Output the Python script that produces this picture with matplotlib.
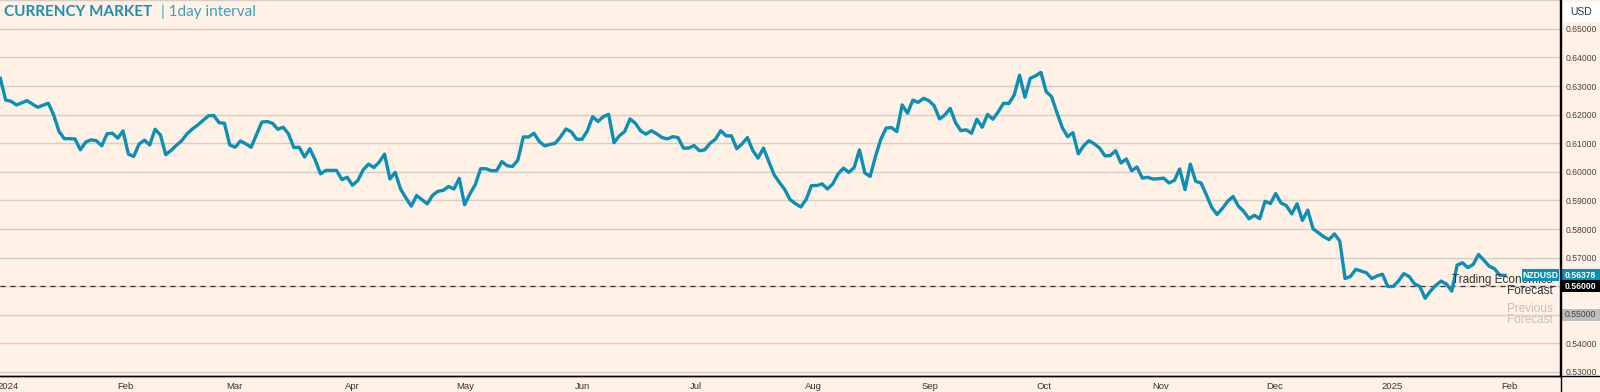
import numpy as np
import pandas as pd
import matplotlib
matplotlib.use("Agg")
import matplotlib.pyplot as plt
from matplotlib.lines import Line2D
from matplotlib.patches import Rectangle
from matplotlib.transforms import blended_transform_factory

# NZDUSD daily closes
start_date = "2023-12-30"
end_date = "2025-01-31"
nzdusd = [
    0.6327, 0.6251, 0.6247, 0.6234, 0.6241, 0.6249, 0.6237, 0.6226, 0.6233, 0.6240,
    0.6199, 0.6141, 0.6116, 0.6116, 0.6115, 0.6077, 0.6104, 0.6112, 0.6109, 0.6091,
    0.6133, 0.6135, 0.6118, 0.6143, 0.6062, 0.6054, 0.6097, 0.6111, 0.6094, 0.6149,
    0.6129, 0.6060, 0.6075, 0.6093, 0.6109, 0.6133, 0.6150, 0.6164, 0.6180, 0.6196,
    0.6197, 0.6172, 0.6170, 0.6094, 0.6086, 0.6108, 0.6098, 0.6086, 0.6130, 0.6174,
    0.6176, 0.6170, 0.6149, 0.6156, 0.6133, 0.6085, 0.6086, 0.6052, 0.6081, 0.6042,
    0.5993, 0.6005, 0.6005, 0.6005, 0.5973, 0.5981, 0.5953, 0.5970, 0.6007, 0.6027,
    0.6015, 0.6034, 0.6062, 0.5975, 0.5998, 0.5940, 0.5909, 0.5880, 0.5917, 0.5903,
    0.5888, 0.5918, 0.5932, 0.5935, 0.5949, 0.5940, 0.5977, 0.5885, 0.5923, 0.5955,
    0.6011, 0.6011, 0.6004, 0.6004, 0.6036, 0.6021, 0.6019, 0.6042, 0.6122, 0.6122,
    0.6135, 0.6106, 0.6091, 0.6096, 0.6100, 0.6123, 0.6150, 0.6140, 0.6114, 0.6114,
    0.6143, 0.6193, 0.6176, 0.6193, 0.6201, 0.6102, 0.6126, 0.6141, 0.6185, 0.6170,
    0.6143, 0.6132, 0.6144, 0.6133, 0.6120, 0.6115, 0.6123, 0.6120, 0.6083, 0.6083,
    0.6092, 0.6074, 0.6077, 0.6100, 0.6114, 0.6144, 0.6126, 0.6126, 0.6081, 0.6098,
    0.6120, 0.6075, 0.6048, 0.6083, 0.6036, 0.5990, 0.5963, 0.5938, 0.5903, 0.5889,
    0.5877, 0.5903, 0.5952, 0.5952, 0.5958, 0.5940, 0.5958, 0.5993, 0.6013, 0.5998,
    0.6015, 0.6077, 0.5996, 0.5984, 0.6054, 0.6114, 0.6153, 0.6155, 0.6141, 0.6234,
    0.6205, 0.6251, 0.6243, 0.6257, 0.6249, 0.6231, 0.6185, 0.6199, 0.6222, 0.6172,
    0.6144, 0.6147, 0.6135, 0.6184, 0.6156, 0.6201, 0.6184, 0.6210, 0.6240, 0.6239,
    0.6269, 0.6338, 0.6261, 0.6327, 0.6336, 0.6348, 0.6280, 0.6263, 0.6207, 0.6155,
    0.6123, 0.6137, 0.6063, 0.6091, 0.6109, 0.6098, 0.6083, 0.6056, 0.6057, 0.6074,
    0.6031, 0.6045, 0.6004, 0.6017, 0.5978, 0.5981, 0.5975, 0.5976, 0.5978, 0.5961,
    0.5970, 0.6010, 0.5938, 0.6027, 0.5967, 0.5961, 0.5920, 0.5876, 0.5851, 0.5872,
    0.5897, 0.5914, 0.5880, 0.5862, 0.5836, 0.5848, 0.5836, 0.5897, 0.5889, 0.5924,
    0.5891, 0.5882, 0.5853, 0.5888, 0.5830, 0.5866, 0.5801, 0.5787, 0.5773, 0.5763,
    0.5783, 0.5758, 0.5627, 0.5634, 0.5659, 0.5653, 0.5647, 0.5627, 0.5636, 0.5642,
    0.5599, 0.5599, 0.5618, 0.5644, 0.5634, 0.5609, 0.5599, 0.5558, 0.5583, 0.5603,
    0.5618, 0.5607, 0.5583, 0.5674, 0.5682, 0.5665, 0.5676, 0.5711, 0.5691, 0.5670,
    0.5661, 0.5638, 0.56378,
]
last_value = 0.56378
forecast = 0.56
prev_forecast = 0.55

y_ticks = [0.53, 0.54, 0.55, 0.56, 0.57, 0.58, 0.59, 0.60, 0.61, 0.62, 0.63, 0.64, 0.65]
month_ticks = ["2024-01-01", "2024-02-01", "2024-03-01", "2024-04-01", "2024-05-01",
               "2024-06-01", "2024-07-01", "2024-08-01", "2024-09-01", "2024-10-01",
               "2024-11-01", "2024-12-01", "2025-01-01", "2025-02-01"]
month_labels = ["2024", "Feb", "Mar", "Apr", "May", "Jun", "Jul", "Aug", "Sep", "Oct",
                "Nov", "Dec", "2025", "Feb"]

dates = pd.date_range(start_date, end_date, periods=len(nzdusd))

bg = "#fff1e5"
blue = "#0b8fb5"
grid_c = "#d8cdc4"
small_font = ["Liberation Sans", "DejaVu Sans"]

W, H = 1600, 392
fig = plt.figure(figsize=(W / 100, H / 100), dpi=100, facecolor=bg)
ax = fig.add_axes([0, 16 / H, 1560 / W, 376 / H])
ax.set_facecolor(bg)

ax.plot(dates, nzdusd, color=blue, lw=2.4, solid_joinstyle="round", zorder=4)
ax.axhline(forecast, color="#333333", lw=0.9, ls=(0, (4, 4)), zorder=3)
ax.axhline(0.66, color=grid_c, lw=1, zorder=1)

ax.set_ylim(0.5286, 0.6601)
ax.set_xlim(pd.Timestamp("2023-12-29 22:00"), pd.Timestamp("2025-02-14 12:00"))

ax.set_yticks(y_ticks)
ax.set_yticklabels([f"{v:.5f}" for v in y_ticks], family=small_font)
ax.yaxis.tick_right()
ax.tick_params(axis="y", length=0, pad=4, labelsize=6.2, labelcolor="#444444")
ax.set_xticks(pd.to_datetime(month_ticks))
ax.set_xticklabels(month_labels, family=small_font)
ax.tick_params(axis="x", length=0, pad=4, labelsize=6.8, labelcolor="#333333")
ax.grid(axis="y", color=grid_c, lw=1, zorder=1)
ax.set_axisbelow(True)

for s in ["top", "left"]:
    ax.spines[s].set_visible(False)
for s in ["right", "bottom"]:
    ax.spines[s].set_color("black")
    ax.spines[s].set_linewidth(1)

fig.add_artist(Line2D([0, 1], [16 / H, 16 / H], color="black", lw=1, transform=fig.transFigure))
fig.add_artist(Line2D([1560.5 / W, 1560.5 / W], [0, 1], color="black", lw=1, transform=fig.transFigure))

tr = blended_transform_factory(ax.transAxes, ax.transData)
px = 0.01 / 28.7  # data units per pixel on y
ax_w = 1560.0


def value_box(y, x0, x1, face, text, tcolor, bold=False):
    h = 12 * px
    ax.add_patch(Rectangle((x0 / ax_w, y - h / 2), (x1 - x0) / ax_w, h, transform=tr,
                           facecolor=face, edgecolor="none", clip_on=False, zorder=6))
    ax.text((x0 + x1) / 2 / ax_w, y, text, transform=tr, ha="center", va="center",
            fontsize=6.2, color=tcolor, fontweight="bold" if bold else "normal",
            family=small_font, clip_on=False, zorder=7)


# forecast annotations
ax.annotate("Trading Economics", xy=(1553 / ax_w, forecast), xycoords=tr,
            xytext=(0, 4.5), textcoords="offset points", ha="right", va="center",
            fontsize=8.5, color="#333333", family=small_font, zorder=5)
ax.annotate("Forecast", xy=(1553 / ax_w, forecast), xycoords=tr,
            xytext=(0, -3.5), textcoords="offset points", ha="right", va="center",
            fontsize=8.5, color="#333333", family=small_font, zorder=5)
ax.annotate("Previous", xy=(1553 / ax_w, prev_forecast), xycoords=tr,
            xytext=(0, 4.5), textcoords="offset points", ha="right", va="center",
            fontsize=8.5, color="#c4c0bd", family=small_font, zorder=5)
ax.annotate("Forecast", xy=(1553 / ax_w, prev_forecast), xycoords=tr,
            xytext=(0, -3.5), textcoords="offset points", ha="right", va="center",
            fontsize=8.5, color="#c4c0bd", family=small_font, zorder=5)

value_box(last_value, 1522, 1559, blue, "NZDUSD", "white", bold=True)
value_box(last_value, 1561, 1600, blue, f"{last_value:.5f}", "white", bold=True)
value_box(forecast, 1561, 1600, "black", f"{forecast:.5f}", "white", bold=True)
value_box(prev_forecast, 1561, 1600, "#bdbdbd", f"{prev_forecast:.5f}", "#444444")

# USD unit box
fig.add_artist(Rectangle((1563 / W, 1 - 22 / H), 37 / W, 20 / H, transform=fig.transFigure,
                         facecolor="white", edgecolor="none"))
fig.text(1581 / W, 1 - 12 / H, "USD", ha="center", va="center", fontsize=7.5,
         color="#333333", family=small_font)

# title
t1 = fig.text(4 / W, 1 - 12 / H, "CURRENCY MARKET", ha="left", va="center",
              fontsize=11, fontweight="bold", color="#1a8fb0", family=["Lato", "DejaVu Sans"])
fig.canvas.draw()
bb = t1.get_window_extent()
fig.text((bb.x1 + 9) / W, 1 - 12 / H, "| 1day interval", ha="left", va="center",
         fontsize=11, color="#3a9fc0", family=["Lato", "DejaVu Sans"])

fig.savefig("out.png", dpi=100, facecolor=bg)
